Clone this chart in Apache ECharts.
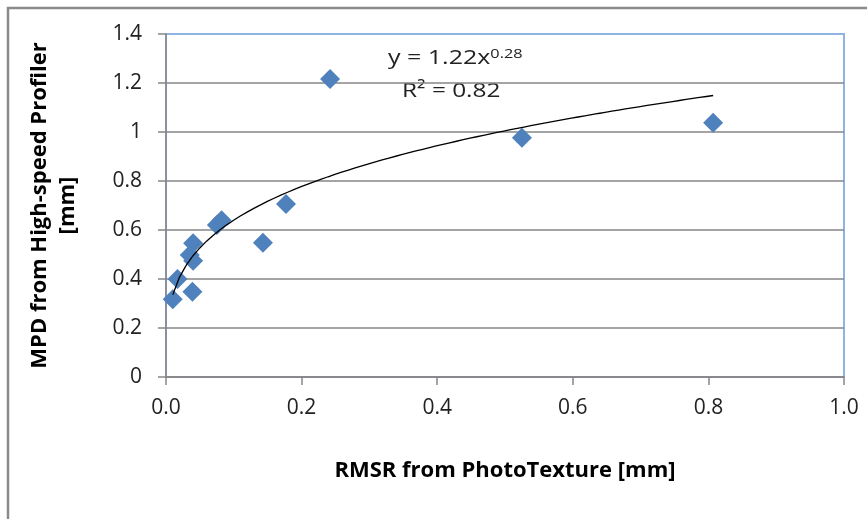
<!DOCTYPE html>
<html>
<head>
<meta charset="utf-8">
<script src="https://cdn.jsdelivr.net/npm/echarts@6/dist/echarts.min.js"></script>
<style>
    html, body { margin: 0; padding: 0; background: #fff; }
    #chart { width: 867px; height: 519px; }
</style>
</head>
<body>
<div id="chart"></div>
<script>
    // measured points (RMSR vs MPD)
    var rmsr = [0.010, 0.017, 0.039, 0.035, 0.040, 0.040, 0.075, 0.082, 0.143, 0.177, 0.242, 0.525, 0.807];
    var mpd = [0.317, 0.40, 0.348, 0.498, 0.546, 0.475, 0.62, 0.64, 0.548, 0.706, 1.216, 0.977, 1.038];

    // power trendline shown on the chart: y = 1.22x^0.28
    var trendA = 1.22;
    var trendB = 0.28;
    var trendR2 = 0.82;

    var xTicks = ['0.0', '0.2', '0.4', '0.6', '0.8', '1.0'];

    var points = [];
    for (var i = 0; i < rmsr.length; i++) {
        points.push([rmsr[i], mpd[i]]);
    }

    var xMin = Math.min.apply(null, rmsr);
    var xMax = Math.max.apply(null, rmsr);
    var trend = [];
    for (var k = 0; k <= 80; k++) {
        var x = xMin + (xMax - xMin) * k / 80;
        trend.push([x, trendA * Math.pow(x, trendB)]);
    }

    var font = '"Open Sans", "Noto Sans", sans-serif';

    var chart = echarts.init(document.getElementById('chart'));

    var option = {
        backgroundColor: '#fff',
        animation: false,
        textStyle: { fontFamily: font },
        grid: {
            left: 166, right: 23, top: 34, bottom: 142,
            show: true,
            borderColor: '#8eb4e3',
            borderWidth: 2,
            backgroundColor: '#fff'
        },
        xAxis: {
            type: 'value',
            min: 0, max: 1, interval: 0.2,
            axisLine: { lineStyle: { color: '#868686', width: 1.5 } },
            axisTick: { show: true, length: 8, lineStyle: { color: '#868686', width: 1.5 } },
            axisLabel: {
                color: '#222', fontSize: 21, margin: 21,
                formatter: function (v) { return xTicks[Math.round(v / 0.2)]; }
            },
            splitLine: { show: false },
            name: 'RMSR from PhotoTexture [mm]',
            nameLocation: 'middle',
            nameGap: 83,
            nameTextStyle: { color: '#000', fontSize: 22, fontWeight: 'bold', fontFamily: font }
        },
        yAxis: {
            type: 'value',
            min: 0, max: 1.4, interval: 0.2,
            axisLine: { show: true, lineStyle: { color: '#868686', width: 1.5 } },
            axisTick: { show: true, length: 8, lineStyle: { color: '#868686', width: 1.5 } },
            axisLabel: {
                color: '#222', fontSize: 21, margin: 24,
                formatter: function (v) { return String(Math.round(v * 10) / 10); }
            },
            splitLine: { show: true, showMaxLine: false, lineStyle: { color: '#868686', width: 1.5 } },
            name: 'MPD from High-speed Profiler\n[mm]',
            nameLocation: 'middle',
            nameGap: 84,
            nameTextStyle: { color: '#000', fontSize: 22, fontWeight: 'bold', lineHeight: 28, fontFamily: font }
        },
        series: [
            {
                name: 'MPD',
                type: 'scatter',
                symbol: 'diamond',
                symbolSize: [20, 20],
                itemStyle: { color: '#4f81bd', opacity: 1 },
                data: points,
                z: 3
            },
            {
                name: 'Power trend',
                type: 'line',
                showSymbol: false,
                smooth: false,
                lineStyle: { color: '#000', width: 1.3 },
                data: trend,
                z: 4
            }
        ],
        graphic: [
            {
                type: 'rect',
                shape: { x: 8, y: 8, width: 880, height: 540 },
                style: { fill: 'none', stroke: '#8a8a8a', lineWidth: 2.5 },
                silent: true
            },
            {
                type: 'text',
                x: 388, y: 48,
                scaleX: 1.25,
                style: {
                    text: '{b|y = 1.22x}{s|0.28}',
                    rich: {
                        b: { fontSize: 20, fontFamily: font, fill: '#222', verticalAlign: 'bottom' },
                        s: { fontSize: 13, fontFamily: font, fill: '#222', verticalAlign: 'top' }
                    }
                }
            },
            {
                type: 'text',
                x: 402, y: 81,
                scaleX: 1.22,
                style: {
                    text: 'R\u00b2 = ' + trendR2,
                    fontSize: 20, fontFamily: font, fill: '#222'
                }
            }
        ]
    };

    chart.setOption(option);
</script>
</body>
</html>
